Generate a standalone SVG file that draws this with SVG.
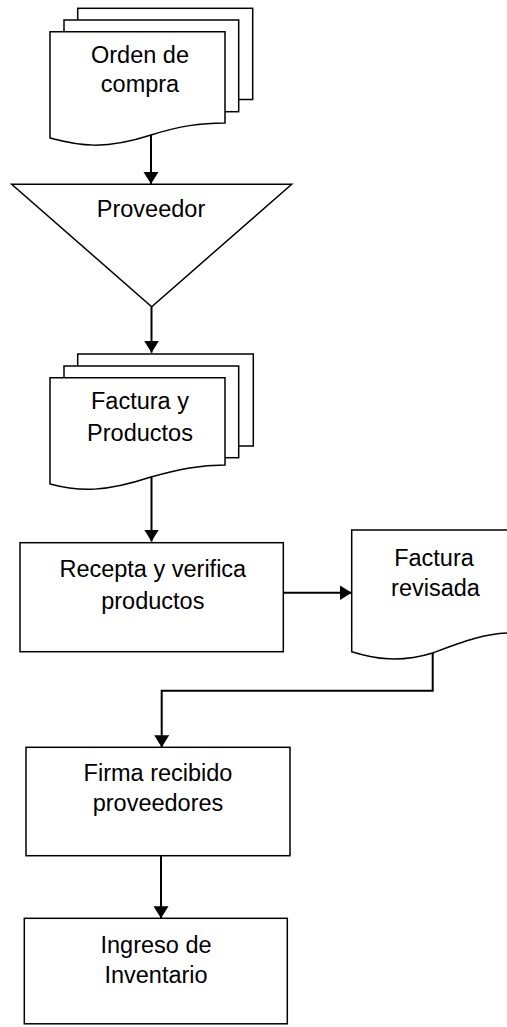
<svg xmlns="http://www.w3.org/2000/svg" width="507" height="1027" viewBox="0 0 507 1027">
  <style>
    .shape { fill: #ffffff; stroke: #000000; stroke-width: 1.5; }
    .label { font-family: "Liberation Sans", Arial, sans-serif; font-size: 23.5px; fill: #000000; text-anchor: middle; }
    .conn { fill: none; stroke: #000000; stroke-width: 2; }
  </style>
  <defs>
    <marker id="arrow" markerUnits="userSpaceOnUse" markerWidth="12" markerHeight="16" refX="12" refY="7.5" orient="auto">
      <path d="M0,0 L12,7.5 L0,15 Z" fill="#000000"/>
    </marker>
  </defs>
  <rect x="0" y="0" width="507" height="1027" fill="#ffffff"/>

  <!-- Stacked purchase order documents -->
  <g id="orden-de-compra">
    <rect class="shape" x="77.7" y="8.3" width="175" height="91.2"/>
    <rect class="shape" x="64" y="20" width="174.7" height="91.7"/>
    <path class="shape" d="M50,31.7 H225 V123 C200,123 180,126 151,135 C105,150 80,146 50,138 Z"/>
    <text class="label" x="140" y="63">Orden de</text>
    <text class="label" x="140" y="92">compra</text>
  </g>

  <!-- Supplier (inverted triangle) -->
  <g id="proveedor">
    <path class="shape" d="M11.7,184.3 H291.7 L151.7,306.7 Z"/>
    <text class="label" x="151" y="217">Proveedor</text>
  </g>

  <!-- Stacked invoice and products documents -->
  <g id="factura-y-productos">
    <rect class="shape" x="77.7" y="354" width="175.6" height="92"/>
    <rect class="shape" x="64" y="366" width="174.7" height="91.7"/>
    <path class="shape" d="M50,377.7 H225 V465 C200,465 180,469 151,477 C105,492 80,492 50,484 Z"/>
    <text class="label" x="140" y="409">Factura y</text>
    <text class="label" x="140" y="441">Productos</text>
  </g>

  <!-- Receive and verify process -->
  <g id="recepta-verifica">
    <rect class="shape" x="20" y="542.7" width="263.3" height="109"/>
    <text class="label" x="152.8" y="577">Recepta y verifica</text>
    <text class="label" x="152.8" y="609">productos</text>
  </g>

  <!-- Reviewed invoice document -->
  <g id="factura-revisada">
    <path class="shape" d="M351.7,530 H512 V633 C485,633 462,642 432.7,653 C400,663 375,659 351.7,651.7 Z"/>
    <text class="label" x="434" y="566">Factura</text>
    <text class="label" x="435.5" y="596">revisada</text>
  </g>

  <!-- Supplier signature process -->
  <g id="firma-recibido">
    <rect class="shape" x="26" y="747.3" width="264" height="108.4"/>
    <text class="label" x="158" y="781">Firma recibido</text>
    <text class="label" x="158" y="811">proveedores</text>
  </g>

  <!-- Inventory entry process -->
  <g id="ingreso-inventario">
    <rect class="shape" x="24.3" y="918.3" width="263" height="105.5"/>
    <text class="label" x="156" y="953">Ingreso de</text>
    <text class="label" x="156" y="983">Inventario</text>
  </g>

  <!-- Connectors -->
  <g id="connectors">
    <path class="conn" d="M151,135 V184" marker-end="url(#arrow)"/>
    <path class="conn" d="M151.5,306.7 V352.7" marker-end="url(#arrow)"/>
    <path class="conn" d="M151.5,477 V541.5" marker-end="url(#arrow)"/>
    <path class="conn" d="M283.3,592.7 H351.7" marker-end="url(#arrow)"/>
    <path class="conn" d="M432.7,653 V690.7 H161.7 V747.3" marker-end="url(#arrow)"/>
    <path class="conn" d="M161,855.7 V918.3" marker-end="url(#arrow)"/>
  </g>
</svg>
